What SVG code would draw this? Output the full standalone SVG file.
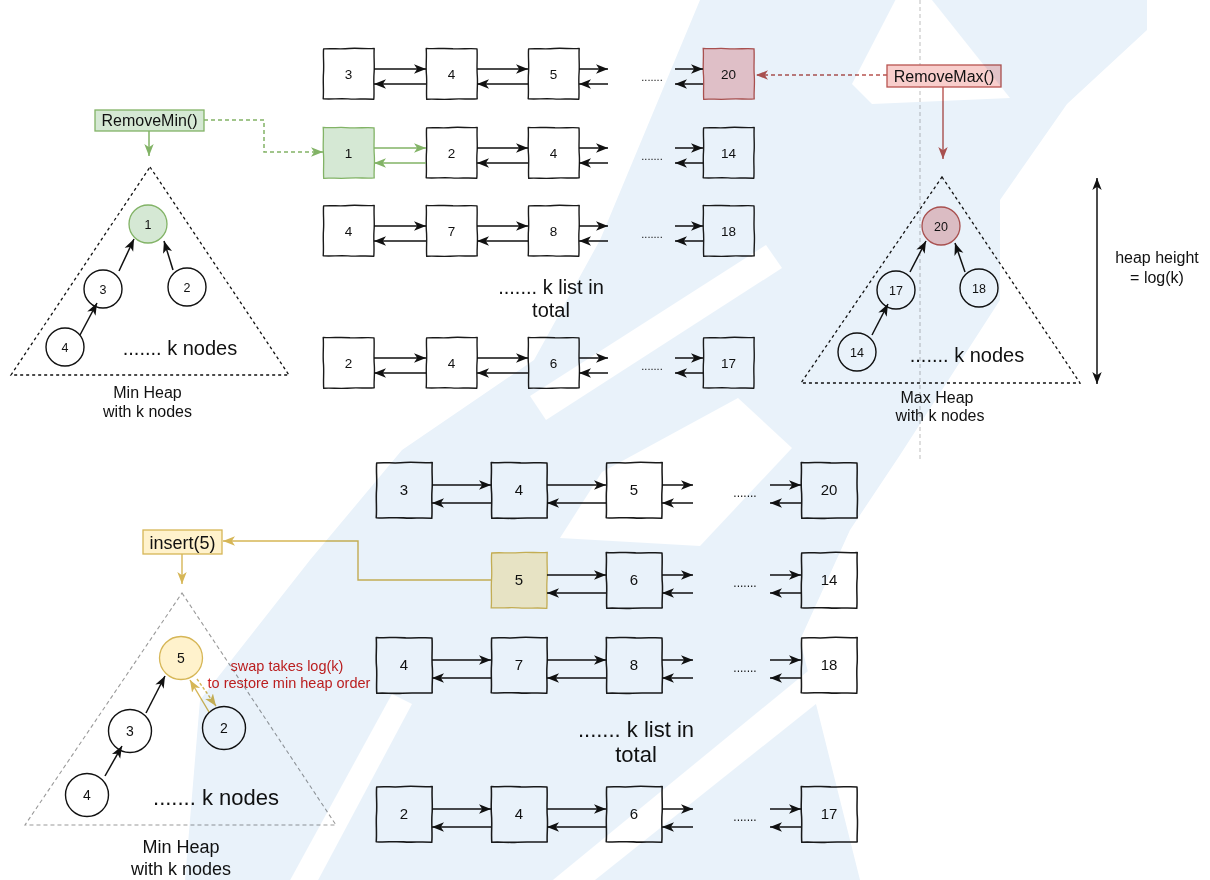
<svg xmlns="http://www.w3.org/2000/svg" width="1210" height="880" viewBox="0 0 1210 880">
  <defs>
    <style>
      .t{font-family:"Liberation Sans",Arial,sans-serif;fill:#111;text-anchor:middle}
      .bx{fill:none;stroke:#1a1a1a;stroke-width:1.4;stroke-linejoin:round}
      .ln{fill:none;stroke:#111;stroke-width:1.5}
      .lg{fill:none;stroke:#82b366;stroke-width:1.5}
      .lr{fill:none;stroke:#b85450;stroke-width:1.4}
      .ly{fill:none;stroke:#d6b656;stroke-width:1.4}
      .cir{fill:none;stroke:#111;stroke-width:1.4}
      .tri{fill:none;stroke:#111;stroke-width:1.3;stroke-dasharray:3 3}
      .wm{fill:#e9f2fa;mix-blend-mode:multiply}
    </style>
    <!-- hand-drawn square outlines, 51 x 51 -->
    <path id="bA" d="M0.6,0.9 C9,0.2 17,1.4 26,0.5 C34,-0.2 43,1.1 51.2,0.4 C50.6,9 51.8,18 51,26 C50.4,35 51.5,43 50.8,51.3 C42,50.5 33,51.6 25,50.9 C16,50.3 8,51.4 0.2,50.8 C0.9,42 -0.2,33 0.5,25 C1.1,16 0,8 0.6,0.9 Z"/>
    <path id="bB" d="M0.2,0.4 C8,1.1 18,-0.1 27,0.8 C36,1.3 44,0.1 51,0.9 C51.6,10 50.5,19 51.3,28 C51.9,37 50.7,45 51.2,50.9 C43,51.5 34,50.4 24,51.2 C15,51.8 7,50.6 0.7,51.3 C0.1,43 1.2,34 0.4,26 C-0.3,17 0.9,9 0.2,0.4 Z"/>
    <marker id="ah" markerUnits="userSpaceOnUse" markerWidth="13" markerHeight="11" refX="12" refY="5.5" orient="auto"><path d="M0,0.8 L12,5.5 L0,10.2 L3.2,5.5 Z" fill="#111"/></marker>
    <marker id="ah2" markerUnits="userSpaceOnUse" markerWidth="13" markerHeight="11" refX="12" refY="5.5" orient="auto-start-reverse"><path d="M0,0.8 L12,5.5 L0,10.2 L3.2,5.5 Z" fill="#111"/></marker>
    <marker id="ahG" markerUnits="userSpaceOnUse" markerWidth="13" markerHeight="11" refX="12" refY="5.5" orient="auto"><path d="M0,0.8 L12,5.5 L0,10.2 L3.2,5.5 Z" fill="#82b366"/></marker>
    <marker id="ahR" markerUnits="userSpaceOnUse" markerWidth="13" markerHeight="11" refX="12" refY="5.5" orient="auto"><path d="M0,0.8 L12,5.5 L0,10.2 L3.2,5.5 Z" fill="#b85450"/></marker>
    <marker id="ahY" markerUnits="userSpaceOnUse" markerWidth="13" markerHeight="11" refX="12" refY="5.5" orient="auto"><path d="M0,0.8 L12,5.5 L0,10.2 L3.2,5.5 Z" fill="#d6b656"/></marker>
    <!-- light cuts through the logo tint -->
    <mask id="cuts" maskUnits="userSpaceOnUse" x="0" y="0" width="1210" height="880">
      <rect width="1210" height="880" fill="#fff"/>
      <g fill="#000">
        <path d="M898,-5 L928,-5 L1010,98 L872,104 L852,84 Z"/>
        <path d="M530,396 L766,245 L782,268 L546,420 Z"/>
        <path d="M548,884 L858,630 L876,656 L590,884 Z"/>
        <path d="M288,884 L392,694 L412,704 L316,884 Z"/>
        <path d="M560,538 L700,546 L792,448 L738,398 L602,472 Z"/>
      </g>
    </mask>
  </defs>

  <rect width="1210" height="880" fill="#ffffff"/>

  <!-- guide line through the max heap -->
  <line x1="920" y1="0" x2="920" y2="462" stroke="#bdbdbd" stroke-width="1" stroke-dasharray="4 3"/>

  <!-- ===== top: linked lists ===== -->
  <g id="top-lists">
    <g id="l1-3"><use href="#bA" x="323" y="48" class="bx"/><text class="t" x="348.5" y="78.5" font-size="13.5">3</text></g>
    <g id="l1-4"><use href="#bB" x="426" y="48" class="bx"/><text class="t" x="451.5" y="78.5" font-size="13.5">4</text></g>
    <g id="l1-5"><use href="#bA" x="528" y="48" class="bx"/><text class="t" x="553.5" y="78.5" font-size="13.5">5</text></g>
    <g id="l1-20"><use href="#bB" x="703" y="48" fill="#f4cacb" stroke="#b85450" stroke-width="1.3"/><text class="t" x="728.5" y="78.5" font-size="13.5">20</text></g>
    <text class="t" x="652" y="81" font-size="11">.......</text>

    <g id="l2-1"><use href="#bB" x="323" y="127" fill="#d5e8d4" stroke="#82b366" stroke-width="1.3"/><text class="t" x="348.5" y="157.5" font-size="13.5">1</text></g>
    <g id="l2-2"><use href="#bA" x="426" y="127" class="bx"/><text class="t" x="451.5" y="157.5" font-size="13.5">2</text></g>
    <g id="l2-4"><use href="#bB" x="528" y="127" class="bx"/><text class="t" x="553.5" y="157.5" font-size="13.5">4</text></g>
    <g id="l2-14"><use href="#bA" x="703" y="127" class="bx"/><text class="t" x="728.5" y="157.5" font-size="13.5">14</text></g>
    <text class="t" x="652" y="160" font-size="11">.......</text>

    <g id="l3-4"><use href="#bA" x="323" y="205" class="bx"/><text class="t" x="348.5" y="235.5" font-size="13.5">4</text></g>
    <g id="l3-7"><use href="#bB" x="426" y="205" class="bx"/><text class="t" x="451.5" y="235.5" font-size="13.5">7</text></g>
    <g id="l3-8"><use href="#bA" x="528" y="205" class="bx"/><text class="t" x="553.5" y="235.5" font-size="13.5">8</text></g>
    <g id="l3-18"><use href="#bB" x="703" y="205" class="bx"/><text class="t" x="728.5" y="235.5" font-size="13.5">18</text></g>
    <text class="t" x="652" y="238" font-size="11">.......</text>

    <g id="l4-2"><use href="#bB" x="323" y="337" class="bx"/><text class="t" x="348.5" y="367.5" font-size="13.5">2</text></g>
    <g id="l4-4"><use href="#bA" x="426" y="337" class="bx"/><text class="t" x="451.5" y="367.5" font-size="13.5">4</text></g>
    <g id="l4-6"><use href="#bB" x="528" y="337" class="bx"/><text class="t" x="553.5" y="367.5" font-size="13.5">6</text></g>
    <g id="l4-17"><use href="#bA" x="703" y="337" class="bx"/><text class="t" x="728.5" y="367.5" font-size="13.5">17</text></g>
    <text class="t" x="652" y="370" font-size="11">.......</text>

    <text class="t" x="551" y="294" font-size="20">....... k list in</text>
    <text class="t" x="551" y="317" font-size="20">total</text>
  </g>

  <!-- ===== top-left: min heap ===== -->
  <g id="removemin"><rect x="95" y="110" width="109" height="21" fill="#d5e8d4" stroke="#82b366" stroke-width="1.3"/><text class="t" x="149.5" y="126" font-size="16">RemoveMin()</text></g>
  <g id="minheap-top">
    <path class="tri" d="M150,167 L289,375 L11,375 Z"/>
    <g id="mh1-1"><circle cx="148" cy="224" r="19" fill="#d5e8d4" stroke="#82b366" stroke-width="1.3"/><text class="t" x="148" y="228.5" font-size="12.5">1</text></g>
    <g id="mh1-3"><circle class="cir" cx="103" cy="289" r="19"/><text class="t" x="103" y="293.5" font-size="12.5">3</text></g>
    <g id="mh1-2"><circle class="cir" cx="187" cy="287" r="19"/><text class="t" x="187" y="291.5" font-size="12.5">2</text></g>
    <g id="mh1-4"><circle class="cir" cx="65" cy="347" r="19"/><text class="t" x="65" y="351.5" font-size="12.5">4</text></g>
    <text class="t" x="180" y="355" font-size="20">....... k nodes</text>
    <text class="t" x="147.5" y="398" font-size="16">Min Heap</text>
    <text class="t" x="147.5" y="417" font-size="16">with k nodes</text>
  </g>

  <!-- ===== top-right: max heap ===== -->
  <g id="removemax"><rect x="887" y="65" width="114" height="22" fill="#f8cecc" stroke="#b85450" stroke-width="1.3"/><text class="t" x="944" y="81.5" font-size="16">RemoveMax()</text></g>
  <g id="maxheap">
    <path class="tri" d="M942,177 L1080,383 L801,383 Z"/>
    <g id="mx-20"><circle cx="941" cy="226" r="19" fill="#f0c6c7" stroke="#b85450" stroke-width="1.3"/><text class="t" x="941" y="230.5" font-size="12.5">20</text></g>
    <g id="mx-17"><circle class="cir" cx="896" cy="290" r="19"/><text class="t" x="896" y="294.5" font-size="12.5">17</text></g>
    <g id="mx-18"><circle class="cir" cx="979" cy="288" r="19"/><text class="t" x="979" y="292.5" font-size="12.5">18</text></g>
    <g id="mx-14"><circle class="cir" cx="857" cy="352" r="19"/><text class="t" x="857" y="356.5" font-size="12.5">14</text></g>
    <text class="t" x="967" y="362" font-size="20">....... k nodes</text>
    <text class="t" x="937" y="403" font-size="16">Max Heap</text>
    <text class="t" x="940" y="421" font-size="16">with k nodes</text>
  </g>
  <g id="height-note">
    <text class="t" x="1157" y="263" font-size="16">heap height</text>
    <text class="t" x="1157" y="283" font-size="16">= log(k)</text>
  </g>

  <!-- ===== bottom: linked lists ===== -->
  <g id="bottom-lists">
    <g id="b1-3"><use href="#bA" transform="translate(376,462) scale(1.098)" class="bx"/><text class="t" x="404" y="495" font-size="15">3</text></g>
    <g id="b1-4"><use href="#bB" transform="translate(491,462) scale(1.098)" class="bx"/><text class="t" x="519" y="495" font-size="15">4</text></g>
    <g id="b1-5"><use href="#bA" transform="translate(606,462) scale(1.098)" class="bx"/><text class="t" x="634" y="495" font-size="15">5</text></g>
    <g id="b1-20"><use href="#bB" transform="translate(801,462) scale(1.098)" class="bx"/><text class="t" x="829" y="495" font-size="15">20</text></g>
    <text class="t" x="745" y="497" font-size="12">.......</text>

    <g id="b2-5"><use href="#bA" transform="translate(491,552) scale(1.098)" fill="#fdf0c8" stroke="#d6b656" stroke-width="1.2"/><text class="t" x="519" y="585" font-size="15">5</text></g>
    <g id="b2-6"><use href="#bB" transform="translate(606,552) scale(1.098)" class="bx"/><text class="t" x="634" y="585" font-size="15">6</text></g>
    <g id="b2-14"><use href="#bA" transform="translate(801,552) scale(1.098)" class="bx"/><text class="t" x="829" y="585" font-size="15">14</text></g>
    <text class="t" x="745" y="587" font-size="12">.......</text>

    <g id="b3-4"><use href="#bB" transform="translate(376,637) scale(1.098)" class="bx"/><text class="t" x="404" y="670" font-size="15">4</text></g>
    <g id="b3-7"><use href="#bA" transform="translate(491,637) scale(1.098)" class="bx"/><text class="t" x="519" y="670" font-size="15">7</text></g>
    <g id="b3-8"><use href="#bB" transform="translate(606,637) scale(1.098)" class="bx"/><text class="t" x="634" y="670" font-size="15">8</text></g>
    <g id="b3-18"><use href="#bA" transform="translate(801,637) scale(1.098)" class="bx"/><text class="t" x="829" y="670" font-size="15">18</text></g>
    <text class="t" x="745" y="672" font-size="12">.......</text>

    <g id="b4-2"><use href="#bA" transform="translate(376,786) scale(1.098)" class="bx"/><text class="t" x="404" y="819" font-size="15">2</text></g>
    <g id="b4-4"><use href="#bB" transform="translate(491,786) scale(1.098)" class="bx"/><text class="t" x="519" y="819" font-size="15">4</text></g>
    <g id="b4-6"><use href="#bA" transform="translate(606,786) scale(1.098)" class="bx"/><text class="t" x="634" y="819" font-size="15">6</text></g>
    <g id="b4-17"><use href="#bB" transform="translate(801,786) scale(1.098)" class="bx"/><text class="t" x="829" y="819" font-size="15">17</text></g>
    <text class="t" x="745" y="821" font-size="12">.......</text>

    <text class="t" x="636" y="737" font-size="22">....... k list in</text>
    <text class="t" x="636" y="762" font-size="22">total</text>
  </g>

  <!-- ===== bottom-left: min heap after insert ===== -->
  <g id="insert"><rect x="143" y="530" width="79" height="24" fill="#fff2cc" stroke="#d6b656" stroke-width="1.3"/><text class="t" x="182.5" y="548.5" font-size="18">insert(5)</text></g>
  <g id="minheap-bottom">
    <path d="M182,593 L336,825 L25,825 Z" fill="none" stroke="#9a9a9a" stroke-width="1.1" stroke-dasharray="4 3"/>
    <g id="mh2-5"><circle cx="181" cy="658" r="21.5" fill="#fff2cc" stroke="#d6b656" stroke-width="1.3"/><text class="t" x="181" y="663" font-size="14">5</text></g>
    <g id="mh2-3"><circle class="cir" cx="130" cy="731" r="21.5"/><text class="t" x="130" y="736" font-size="14">3</text></g>
    <g id="mh2-2"><circle class="cir" cx="224" cy="728" r="21.5"/><text class="t" x="224" y="733" font-size="14">2</text></g>
    <g id="mh2-4"><circle class="cir" cx="87" cy="795" r="21.5"/><text class="t" x="87" y="800" font-size="14">4</text></g>
    <text class="t" x="216" y="805" font-size="22">....... k nodes</text>
    <text class="t" x="181" y="853" font-size="18">Min Heap</text>
    <text class="t" x="181" y="875" font-size="18">with k nodes</text>
    <text class="t" x="287" y="671" font-size="14.5" style="fill:#cc1f1f">swap takes log(k)</text>
    <text class="t" x="289" y="688" font-size="14.5" style="fill:#cc1f1f">to restore min heap order</text>
  </g>

  <!-- ===== connectors ===== -->
  <g id="connectors">
    <!-- top list links -->
    <path class="ln" marker-end="url(#ah)" d="M374,69 H426"/>
    <path class="ln" marker-end="url(#ah)" d="M477,69 H528"/>
    <path class="ln" marker-end="url(#ah)" d="M579,69 H608"/>
    <path class="ln" marker-end="url(#ah)" d="M675,69 H703"/>
    <path class="ln" marker-end="url(#ah)" d="M426,84 H374"/>
    <path class="ln" marker-end="url(#ah)" d="M528,84 H477"/>
    <path class="ln" marker-end="url(#ah)" d="M608,84 H579"/>
    <path class="ln" marker-end="url(#ah)" d="M703,84 H675"/>

    <path class="lg" marker-end="url(#ahG)" d="M374,148 H426"/>
    <path class="lg" marker-end="url(#ahG)" d="M426,163 H374"/>
    <path class="ln" marker-end="url(#ah)" d="M477,148 H528"/>
    <path class="ln" marker-end="url(#ah)" d="M579,148 H608"/>
    <path class="ln" marker-end="url(#ah)" d="M675,148 H703"/>
    <path class="ln" marker-end="url(#ah)" d="M528,163 H477"/>
    <path class="ln" marker-end="url(#ah)" d="M608,163 H579"/>
    <path class="ln" marker-end="url(#ah)" d="M703,163 H675"/>

    <path class="ln" marker-end="url(#ah)" d="M374,226 H426"/>
    <path class="ln" marker-end="url(#ah)" d="M477,226 H528"/>
    <path class="ln" marker-end="url(#ah)" d="M579,226 H608"/>
    <path class="ln" marker-end="url(#ah)" d="M675,226 H703"/>
    <path class="ln" marker-end="url(#ah)" d="M426,241 H374"/>
    <path class="ln" marker-end="url(#ah)" d="M528,241 H477"/>
    <path class="ln" marker-end="url(#ah)" d="M608,241 H579"/>
    <path class="ln" marker-end="url(#ah)" d="M703,241 H675"/>

    <path class="ln" marker-end="url(#ah)" d="M374,358 H426"/>
    <path class="ln" marker-end="url(#ah)" d="M477,358 H528"/>
    <path class="ln" marker-end="url(#ah)" d="M579,358 H608"/>
    <path class="ln" marker-end="url(#ah)" d="M675,358 H703"/>
    <path class="ln" marker-end="url(#ah)" d="M426,373 H374"/>
    <path class="ln" marker-end="url(#ah)" d="M528,373 H477"/>
    <path class="ln" marker-end="url(#ah)" d="M608,373 H579"/>
    <path class="ln" marker-end="url(#ah)" d="M703,373 H675"/>

    <!-- bottom list links -->
    <path class="ln" marker-end="url(#ah)" d="M432,485 H491"/>
    <path class="ln" marker-end="url(#ah)" d="M547,485 H606"/>
    <path class="ln" marker-end="url(#ah)" d="M662,485 H693"/>
    <path class="ln" marker-end="url(#ah)" d="M770,485 H801"/>
    <path class="ln" marker-end="url(#ah)" d="M491,503 H432"/>
    <path class="ln" marker-end="url(#ah)" d="M606,503 H547"/>
    <path class="ln" marker-end="url(#ah)" d="M693,503 H662"/>
    <path class="ln" marker-end="url(#ah)" d="M801,503 H770"/>

    <path class="ln" marker-end="url(#ah)" d="M547,575 H606"/>
    <path class="ln" marker-end="url(#ah)" d="M662,575 H693"/>
    <path class="ln" marker-end="url(#ah)" d="M770,575 H801"/>
    <path class="ln" marker-end="url(#ah)" d="M606,593 H547"/>
    <path class="ln" marker-end="url(#ah)" d="M693,593 H662"/>
    <path class="ln" marker-end="url(#ah)" d="M801,593 H770"/>

    <path class="ln" marker-end="url(#ah)" d="M432,660 H491"/>
    <path class="ln" marker-end="url(#ah)" d="M547,660 H606"/>
    <path class="ln" marker-end="url(#ah)" d="M662,660 H693"/>
    <path class="ln" marker-end="url(#ah)" d="M770,660 H801"/>
    <path class="ln" marker-end="url(#ah)" d="M491,678 H432"/>
    <path class="ln" marker-end="url(#ah)" d="M606,678 H547"/>
    <path class="ln" marker-end="url(#ah)" d="M693,678 H662"/>
    <path class="ln" marker-end="url(#ah)" d="M801,678 H770"/>

    <path class="ln" marker-end="url(#ah)" d="M432,809 H491"/>
    <path class="ln" marker-end="url(#ah)" d="M547,809 H606"/>
    <path class="ln" marker-end="url(#ah)" d="M662,809 H693"/>
    <path class="ln" marker-end="url(#ah)" d="M770,809 H801"/>
    <path class="ln" marker-end="url(#ah)" d="M491,827 H432"/>
    <path class="ln" marker-end="url(#ah)" d="M606,827 H547"/>
    <path class="ln" marker-end="url(#ah)" d="M693,827 H662"/>
    <path class="ln" marker-end="url(#ah)" d="M801,827 H770"/>

    <!-- operations -->
    <path class="lg" stroke-dasharray="4 3" marker-end="url(#ahG)" d="M204,120 H264 V152 H323"/>
    <path class="lg" marker-end="url(#ahG)" d="M149,131 V156"/>
    <path class="lr" stroke-dasharray="4 3" marker-end="url(#ahR)" d="M887,75 H756"/>
    <path class="lr" marker-end="url(#ahR)" d="M943,87 V159"/>
    <path class="ly" marker-end="url(#ahY)" d="M491,580 H358 V541 H223"/>
    <path class="ly" marker-end="url(#ahY)" d="M182,554 V584"/>

    <!-- heap edges -->
    <path class="ln" marker-end="url(#ah)" d="M119,271 L134,239"/>
    <path class="ln" marker-end="url(#ah)" d="M173,270 L164,241"/>
    <path class="ln" marker-end="url(#ah)" d="M80,335 L97,303"/>
    <path class="ln" marker-end="url(#ah)" d="M910,272 L926,241"/>
    <path class="ln" marker-end="url(#ah)" d="M965,272 L955,243"/>
    <path class="ln" marker-end="url(#ah)" d="M872,335 L888,304"/>
    <path class="ln" marker-end="url(#ah)" d="M146,713 L165,676"/>
    <path class="ln" marker-end="url(#ah)" d="M105,776 L122,746"/>
    <path class="ly" marker-end="url(#ahY)" d="M209,712 L190,680"/>
    <path class="ly" stroke-dasharray="3 2" marker-end="url(#ahY)" d="M197,679 L216,706"/>

    <!-- heap height -->
    <path class="ln" marker-start="url(#ah2)" marker-end="url(#ah2)" d="M1097,178 V384"/>
  </g>

  <!-- background logo tint -->
  <g id="logo-tint" class="wm" mask="url(#cuts)">
    <path d="M700,0 H1147 V30 L1067,104 L1000,200 L1000,300 L900,455 L850,530 L800,640 L860,880 H185 L200,700 L310,560 L402,450 L534,360 L600,240 Z"/>
  </g>
</svg>
